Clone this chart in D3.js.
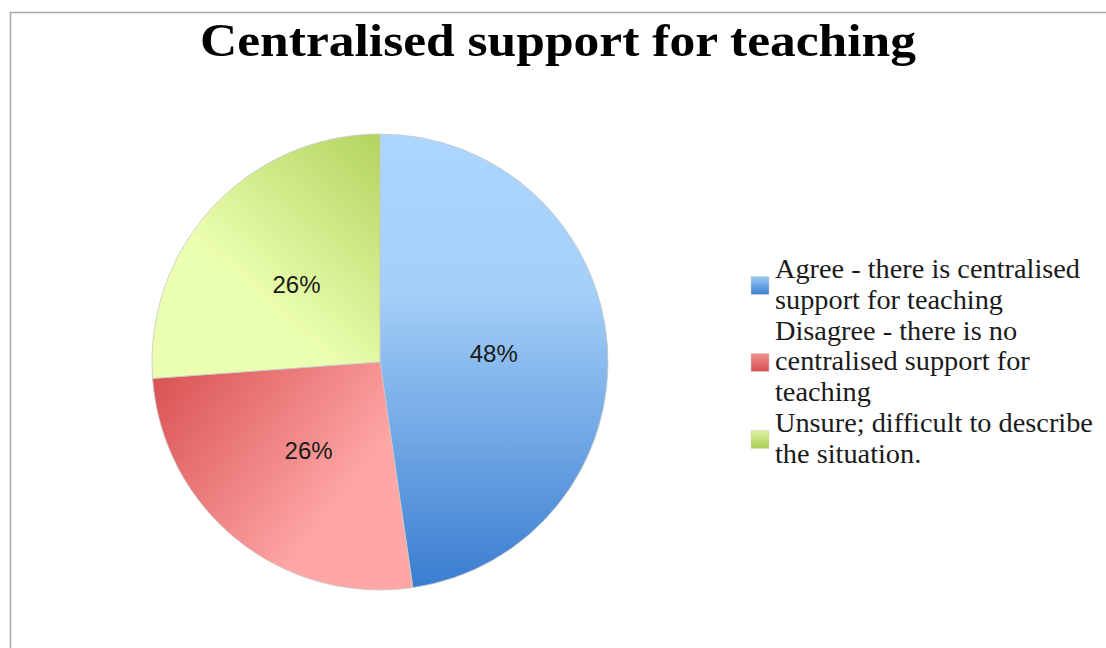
<!DOCTYPE html>
<html>
<head>
<meta charset="utf-8">
<script src="https://cdn.jsdelivr.net/npm/d3@7"></script>
<style>
  body { margin: 0; background: #fff; }
  svg { display: block; }
</style>
</head>
<body>
<div id="chart"></div>
<script>
// chart data
var title = "Centralised support for teaching";
var categories = [
    "Agree - there is centralised support for teaching",
    "Disagree - there is no centralised support for teaching",
    "Unsure; difficult to describe the situation."
];
var values = [47.7, 26.15, 26.15];
var legendLines = [
    ["Agree - there is centralised", "support for teaching"],
    ["Disagree - there is no", "centralised support for", "teaching"],
    ["Unsure; difficult to describe", "the situation."]
];

var width = 1106,
    height = 648,
    cx = 380,
    cy = 362,
    radius = 228;

var svg = d3.select('#chart')
    .append('svg')
    .attr('width', width)
    .attr('height', height);

var defs = svg.append('defs');

// gradients, one per slice
var grads = [
    {id: 'g-blue', x1: 0, y1: 0, x2: 0, y2: 1, stops: [['0%', '#acd6fd'], ['35%', '#a4cff8'], ['100%', '#3a7dd0']]},
    {id: 'g-red', x1: 0, y1: 0.1, x2: 0.75, y2: 0.6, stops: [['0%', '#da5454'], ['100%', '#ffa7a7']]},
    {id: 'g-green', x1: 1, y1: 0, x2: 0.45, y2: 0.65, stops: [['0%', '#b2d35e'], ['100%', '#ebffb0']]}
];
var colors = ['url(#g-blue)', 'url(#g-red)', 'url(#g-green)'];
var swatch = [
    {id: 's-blue', stops: [['0%', '#9ccaf6'], ['100%', '#3c7fd2']]},
    {id: 's-red', stops: [['0%', '#f09090'], ['100%', '#d84f4f']]},
    {id: 's-green', stops: [['0%', '#dff2a0'], ['100%', '#a9cc52']]}
];

grads.forEach(function (g) {
    var lg = defs.append('linearGradient')
        .attr('id', g.id)
        .attr('x1', g.x1).attr('y1', g.y1)
        .attr('x2', g.x2).attr('y2', g.y2);
    g.stops.forEach(function (s) {
        lg.append('stop').attr('offset', s[0]).attr('stop-color', s[1]);
    });
});
swatch.forEach(function (g) {
    var lg = defs.append('linearGradient')
        .attr('id', g.id)
        .attr('x1', 0).attr('y1', 0)
        .attr('x2', 0).attr('y2', 1);
    g.stops.forEach(function (s) {
        lg.append('stop').attr('offset', s[0]).attr('stop-color', s[1]);
    });
});

// frame
svg.append('rect')
    .attr('x', 10.5)
    .attr('y', 12.5)
    .attr('width', width + 20)
    .attr('height', height + 20)
    .attr('fill', 'none')
    .attr('stroke', '#a6a6a6')
    .attr('stroke-width', 1.5);

// title
var t = svg.append('text')
    .attr('x', 558)
    .attr('y', 56)
    .attr('text-anchor', 'middle')
    .attr('font-family', '"Liberation Serif", "DejaVu Serif", serif')
    .attr('font-weight', 'bold')
    .attr('font-size', 46)
    .attr('fill', '#000')
    .text(title);
var tw = t.node().getComputedTextLength();
if (Math.abs(tw - 716) > 4) {
    t.attr('textLength', 716).attr('lengthAdjust', 'spacingAndGlyphs');
}

// pie
var pie = d3.pie()
    .sort(null)
    .value(function (d) { return d; });

var arc = d3.arc()
    .innerRadius(0)
    .outerRadius(radius);

var g = svg.append('g')
    .attr('transform', 'translate(' + cx + ',' + cy + ')');

var arcs = pie(values);

g.selectAll('path')
    .data(arcs)
    .enter()
    .append('path')
    .attr('d', arc)
    .attr('fill', function (d, i) { return colors[i]; })
    .attr('stroke', '#c8c8c8')
    .attr('stroke-width', 0.8)
    .attr('stroke-linejoin', 'round');

var total = d3.sum(values);
g.selectAll('text')
    .data(arcs)
    .enter()
    .append('text')
    .attr('transform', function (d) {
        var c = arc.centroid(d);
        return 'translate(' + c[0] + ',' + c[1] + ')';
    })
    .attr('text-anchor', 'middle')
    .attr('dy', '0.35em')
    .attr('font-family', '"Liberation Sans", Arial, sans-serif')
    .attr('font-size', 24)
    .attr('fill', '#1a1a1a')
    .text(function (d) { return Math.round(d.data / total * 100) + '%'; });

// legend
var legendX = 775,
    firstBaseline = 278,
    lineH = 30.8;

var legend = svg.append('g');
var lineIndex = 0;
var legendTexts = [];
legendLines.forEach(function (lines, i) {
    var baselines = lines.map(function (l, j) { return firstBaseline + (lineIndex + j) * lineH; });
    lines.forEach(function (l, j) {
        var tx = legend.append('text')
            .attr('x', legendX)
            .attr('y', baselines[j])
            .attr('font-family', '"Liberation Serif", "DejaVu Serif", serif')
            .attr('font-size', 27)
            .attr('fill', '#1a1a1a')
            .text(l);
        legendTexts.push(tx);
    });
    var mid = d3.mean(baselines) - 8;
    legend.append('rect')
        .attr('x', 751)
        .attr('y', mid - 9)
        .attr('width', 18)
        .attr('height', 18)
        .attr('fill', 'url(#' + swatch[i].id + ')')
        .attr('stroke', '#d0d0d0')
        .attr('stroke-width', 0.5);
    lineIndex += lines.length;
});

// the source font is a bit wider than Liberation Serif: stretch lines to match
var stretch = 305 / legendTexts[0].node().getComputedTextLength();
legendTexts.forEach(function (tx) {
    var w = tx.node().getComputedTextLength();
    tx.attr('textLength', w * stretch).attr('lengthAdjust', 'spacingAndGlyphs');
});
</script>
</body>
</html>
